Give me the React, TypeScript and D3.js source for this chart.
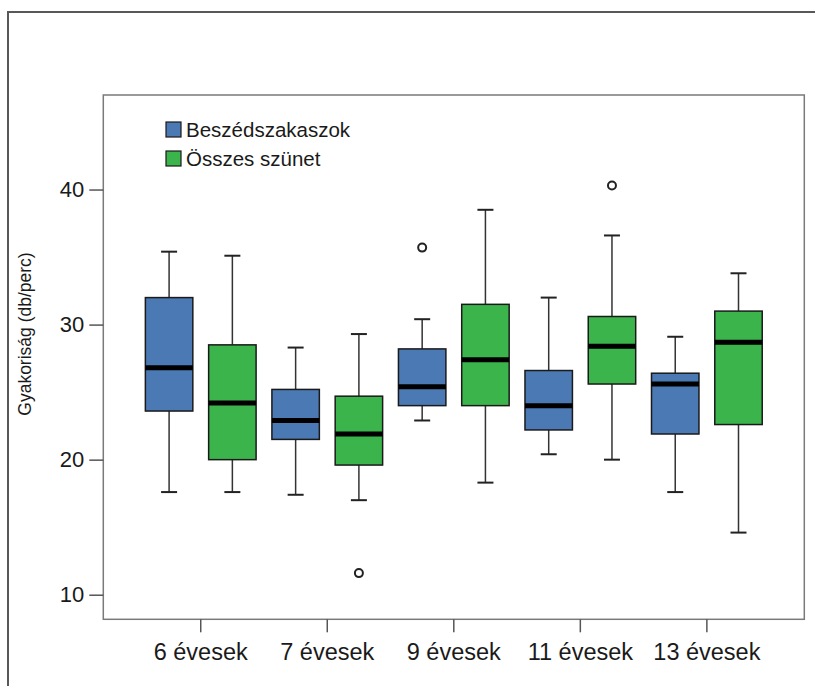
import { useEffect, useRef } from "react";
import * as d3 from "d3";

const groups = ["6 évesek", "7 évesek", "9 évesek", "11 évesek", "13 évesek"];
const seriesNames = ["Beszédszakaszok", "Összes szünet"];
const seriesColors = ["#4a79b3", "#3bb54b"];

// [min, q1, median, q3, max]
const beszedStats = [
  [17.6, 23.6, 26.8, 32.0, 35.4],
  [17.4, 21.5, 22.9, 25.2, 28.3],
  [22.9, 24.0, 25.4, 28.2, 30.4],
  [20.4, 22.2, 24.0, 26.6, 32.0],
  [17.6, 21.9, 25.6, 26.4, 29.1],
];
const szunetStats = [
  [17.6, 20.0, 24.2, 28.5, 35.1],
  [17.0, 19.6, 21.9, 24.7, 29.3],
  [18.3, 24.0, 27.4, 31.5, 38.5],
  [20.0, 25.6, 28.4, 30.6, 36.6],
  [14.6, 22.6, 28.7, 31.0, 33.8],
];
const beszedOutliers = [[], [], [35.7], [], []];
const szunetOutliers = [[], [11.6], [], [40.3], []];

const yTicks = [10, 20, 30, 40];
const yLabel = "Gyakoriság (db/perc)";

const W = 815;
const H = 686;
const margin = { top: 95, right: 10.7, bottom: 66.7, left: 103.3 };
const font = "'Liberation Sans', Arial, sans-serif";

const BoxChart = () => {
  const ref = useRef<SVGSVGElement>(null);

  useEffect(() => {
    const svg = d3.select(ref.current);
    svg.selectAll("*").remove();

    const width = W - margin.left - margin.right;
    const height = H - margin.top - margin.bottom;

    // outer frame (runs off the right and bottom)
    svg
      .append("path")
      .attr("d", `M${W + 10},12 H8 V${H + 10}`)
      .attr("fill", "none")
      .attr("stroke", "#585858")
      .attr("stroke-width", 2);

    const g = svg
      .append("g")
      .attr("transform", `translate(${margin.left},${margin.top})`);

    const x = d3
      .scaleBand()
      .domain(groups)
      .range([0, width])
      .paddingInner(0)
      .paddingOuter(0.27);

    const xs = d3
      .scaleBand()
      .domain(seriesNames)
      .range([0, x.bandwidth()])
      .paddingInner(0.25)
      .paddingOuter(0.125);

    const y = d3.scaleLinear().domain([8.18, 47.0]).range([height, 0]);

    // plot frame
    g.append("rect")
      .attr("width", width)
      .attr("height", height)
      .attr("fill", "none")
      .attr("stroke", "#7a7a7a")
      .attr("stroke-width", 1.5);

    // y axis
    const yAxis = g
      .append("g")
      .call(d3.axisLeft(y).tickValues(yTicks).tickSize(14).tickPadding(5));
    yAxis.select(".domain").remove();
    yAxis.selectAll("line").attr("stroke", "#555").attr("stroke-width", 1.5);
    yAxis
      .selectAll("text")
      .attr("fill", "#1a1a1a")
      .style("font-family", font)
      .style("font-size", "22px");

    // x axis
    const xAxis = g
      .append("g")
      .attr("transform", `translate(0,${height})`)
      .call(d3.axisBottom(x).tickSize(13).tickPadding(11));
    xAxis.select(".domain").remove();
    xAxis.selectAll("line").attr("stroke", "#555").attr("stroke-width", 1.5);
    xAxis
      .selectAll("text")
      .attr("fill", "#1a1a1a")
      .style("font-family", font)
      .style("font-size", "23.5px");

    // y label
    svg
      .append("text")
      .attr("transform", `translate(31,${334}) rotate(-90)`)
      .attr("text-anchor", "middle")
      .attr("fill", "#1a1a1a")
      .style("font-family", font)
      .style("font-size", "17.5px")
      .text(yLabel);

    const allStats = [beszedStats, szunetStats];
    const allOutliers = [beszedOutliers, szunetOutliers];

    seriesNames.forEach((s, si) => {
      groups.forEach((grp, gi) => {
        const [mn, q1, med, q3, mx] = allStats[si][gi];
        const bx = x(grp)! + xs(s)!;
        const bw = xs.bandwidth();
        const cx = bx + bw / 2;
        const box = g.append("g");

        box
          .append("line")
          .attr("x1", cx)
          .attr("x2", cx)
          .attr("y1", y(mx))
          .attr("y2", y(mn))
          .attr("stroke", "#333")
          .attr("stroke-width", 1.5);
        [mn, mx].forEach((v) =>
          box
            .append("line")
            .attr("x1", cx - 8)
            .attr("x2", cx + 8)
            .attr("y1", y(v))
            .attr("y2", y(v))
            .attr("stroke", "#222")
            .attr("stroke-width", 2)
        );
        box
          .append("rect")
          .attr("x", bx)
          .attr("y", y(q3))
          .attr("width", bw)
          .attr("height", y(q1) - y(q3))
          .attr("fill", seriesColors[si])
          .attr("stroke", "#1a1a1a")
          .attr("stroke-width", 1.5);
        box
          .append("line")
          .attr("x1", bx)
          .attr("x2", bx + bw)
          .attr("y1", y(med))
          .attr("y2", y(med))
          .attr("stroke", "#000")
          .attr("stroke-width", 5);

        allOutliers[si][gi].forEach((o) =>
          box
            .append("circle")
            .attr("cx", cx)
            .attr("cy", y(o))
            .attr("r", 4)
            .attr("fill", "#fff")
            .attr("stroke", "#222")
            .attr("stroke-width", 2)
        );
      });
    });

    // legend
    const leg = svg.append("g").attr("transform", "translate(166,122)");
    seriesNames.forEach((s, i) => {
      leg
        .append("rect")
        .attr("x", 0)
        .attr("y", i * 29)
        .attr("width", 15)
        .attr("height", 15)
        .attr("fill", seriesColors[i])
        .attr("stroke", "#1a1a1a")
        .attr("stroke-width", 1.2);
      leg
        .append("text")
        .attr("x", 20)
        .attr("y", i * 29 + 15)
        .attr("fill", "#1a1a1a")
        .style("font-family", font)
        .style("font-size", "20.5px")
        .text(s);
    });
  }, []);

  return (
    <svg
      ref={ref}
      width={W}
      height={H}
      style={{ position: "absolute", left: 0, top: 0, background: "#fff" }}
    />
  );
};

export default function App() {
  return <BoxChart />;
}
